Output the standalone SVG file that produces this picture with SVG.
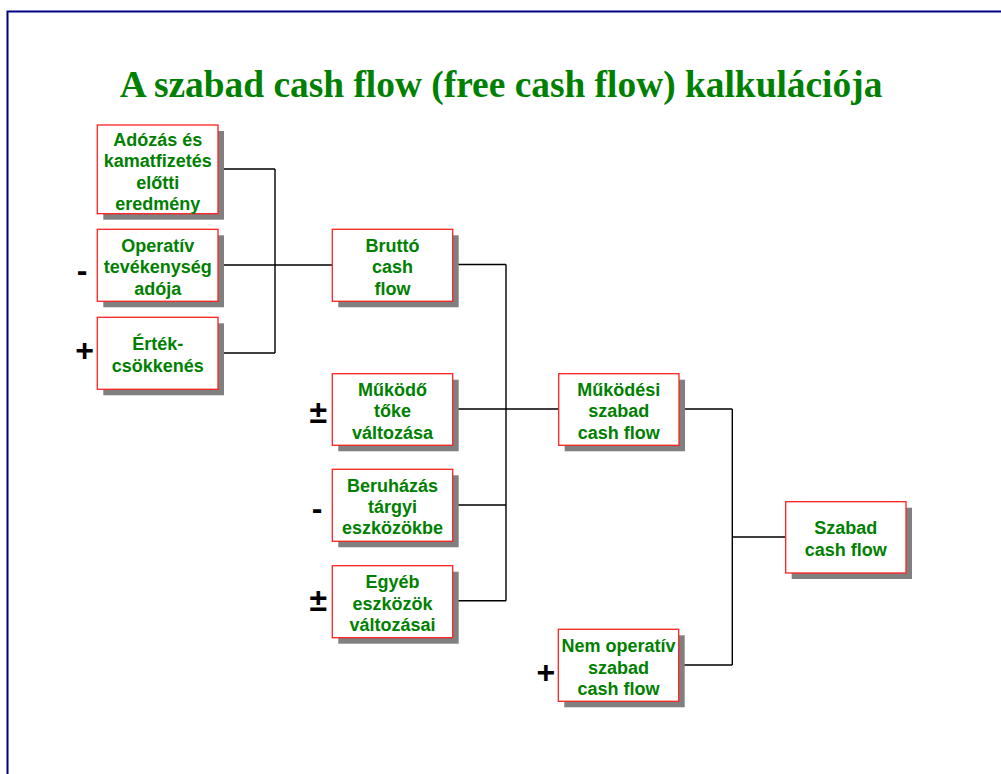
<svg xmlns="http://www.w3.org/2000/svg" width="1001" height="774" viewBox="0 0 1001 774">
  <style>
    .title { font-family: "Liberation Serif", "Times New Roman", serif; font-weight: bold; font-size: 37.4px; fill: #008000; text-anchor: middle; }
    .shadow { fill: #808080; }
    .box { fill: #ffffff; stroke: #ff2020; stroke-width: 1.3; }
    .lbl { font-family: "Liberation Sans", Arial, sans-serif; font-weight: bold; font-size: 18px; fill: #008000; text-anchor: middle; }
    .sign { font-family: "Liberation Sans", Arial, sans-serif; font-weight: bold; font-size: 32px; fill: #000000; text-anchor: middle; }
    .wire { fill: none; stroke: #000000; stroke-width: 1.4; }
  </style>

  <rect width="1001" height="774" fill="#ffffff"/>
  <!-- slide frame: only the top and left edges fall inside the view -->
  <path d="M7.5 774 V11.5 H1001" fill="none" stroke="#000080" stroke-width="2"/>

  <text class="title" x="501" y="97">A szabad cash flow (free cash flow) kalkulációja</text>

  <!-- connectors -->
  <g id="connectors">
    <path class="wire" d="M218 169 H275 M218 265 H275 M218 353 H275 M275 169 V353 M275 265 H332.3"/>
    <path class="wire" d="M452.7 264.5 H506 M452.7 409 H506 M452.7 505 H506 M452.7 600.7 H506 M506 264.5 V600.7 M506 409 H558.7"/>
    <path class="wire" d="M679 409 H732.3 M678.7 665 H732.3 M732.3 409 V665 M732.3 537 H785.7"/>
  </g>

  <!-- column 1 -->
  <g id="ebit">
    <rect class="shadow" x="103.3" y="131" width="120.7" height="88.7"/>
    <rect class="box" x="97.3" y="125" width="120.7" height="88.7"/>
    <text class="lbl" x="157.7" y="146">Adózás és</text>
    <text class="lbl" x="157.7" y="167.3">kamatfizetés</text>
    <text class="lbl" x="157.7" y="188.6">előtti</text>
    <text class="lbl" x="157.7" y="209.9">eredmény</text>
  </g>
  <g id="ado">
    <rect class="shadow" x="103.3" y="235.3" width="120.7" height="72"/>
    <rect class="box" x="97.3" y="229.3" width="120.7" height="72"/>
    <text class="lbl" x="157.7" y="252">Operatív</text>
    <text class="lbl" x="157.7" y="273.3">tevékenység</text>
    <text class="lbl" x="157.7" y="294.6">adója</text>
    <text class="sign" x="82" y="281">-</text>
  </g>
  <g id="ertekcsokkenes">
    <rect class="shadow" x="103.3" y="323.3" width="120.7" height="72"/>
    <rect class="box" x="97.3" y="317.3" width="120.7" height="72"/>
    <text class="lbl" x="157.7" y="350">Érték-</text>
    <text class="lbl" x="157.7" y="371.8">csökkenés</text>
    <text class="sign" x="84.7" y="361">+</text>
  </g>

  <!-- column 2 -->
  <g id="brutto">
    <rect class="shadow" x="338.3" y="235.3" width="120.4" height="72"/>
    <rect class="box" x="332.3" y="229.3" width="120.4" height="72"/>
    <text class="lbl" x="392.5" y="252">Bruttó</text>
    <text class="lbl" x="392.5" y="273.3">cash</text>
    <text class="lbl" x="392.5" y="294.6">flow</text>
  </g>
  <g id="mukodo-toke">
    <rect class="shadow" x="338.3" y="379.7" width="120.4" height="71.6"/>
    <rect class="box" x="332.3" y="373.7" width="120.4" height="71.6"/>
    <text class="lbl" x="392.5" y="396">Működő</text>
    <text class="lbl" x="392.5" y="417.3">tőke</text>
    <text class="lbl" x="392.5" y="438.6">változása</text>
    <text class="sign" x="318.3" y="423">±</text>
  </g>
  <g id="beruhazas">
    <rect class="shadow" x="338.3" y="475.3" width="120.4" height="72"/>
    <rect class="box" x="332.3" y="469.3" width="120.4" height="72"/>
    <text class="lbl" x="392.5" y="491.8">Beruházás</text>
    <text class="lbl" x="392.5" y="513.1">tárgyi</text>
    <text class="lbl" x="392.5" y="534.4">eszközökbe</text>
    <text class="sign" x="317" y="519">-</text>
  </g>
  <g id="egyeb">
    <rect class="shadow" x="338.3" y="571.7" width="120.4" height="72"/>
    <rect class="box" x="332.3" y="565.7" width="120.4" height="72"/>
    <text class="lbl" x="392.5" y="588.2">Egyéb</text>
    <text class="lbl" x="392.5" y="609.5">eszközök</text>
    <text class="lbl" x="392.5" y="630.8">változásai</text>
    <text class="sign" x="318.3" y="611">±</text>
  </g>

  <!-- column 3 -->
  <g id="mukodesi-fcf">
    <rect class="shadow" x="564.7" y="379.7" width="120.3" height="71.6"/>
    <rect class="box" x="558.7" y="373.7" width="120.3" height="71.6"/>
    <text class="lbl" x="618.8" y="396">Működési</text>
    <text class="lbl" x="618.8" y="417.3">szabad</text>
    <text class="lbl" x="618.8" y="438.6">cash flow</text>
  </g>
  <g id="nem-operativ-fcf">
    <rect class="shadow" x="564.3" y="635.3" width="120.4" height="72"/>
    <rect class="box" x="558.3" y="629.3" width="120.4" height="72"/>
    <text class="lbl" x="618.5" y="652.3">Nem operatív</text>
    <text class="lbl" x="618.5" y="673.6">szabad</text>
    <text class="lbl" x="618.5" y="694.9">cash flow</text>
    <text class="sign" x="545.8" y="683">+</text>
  </g>

  <!-- column 4 -->
  <g id="szabad-cash-flow">
    <rect class="shadow" x="791.7" y="507.7" width="120.3" height="71.3"/>
    <rect class="box" x="785.7" y="501.7" width="120.3" height="71.3"/>
    <text class="lbl" x="845.8" y="534.3">Szabad</text>
    <text class="lbl" x="845.8" y="556.3">cash flow</text>
  </g>
</svg>
